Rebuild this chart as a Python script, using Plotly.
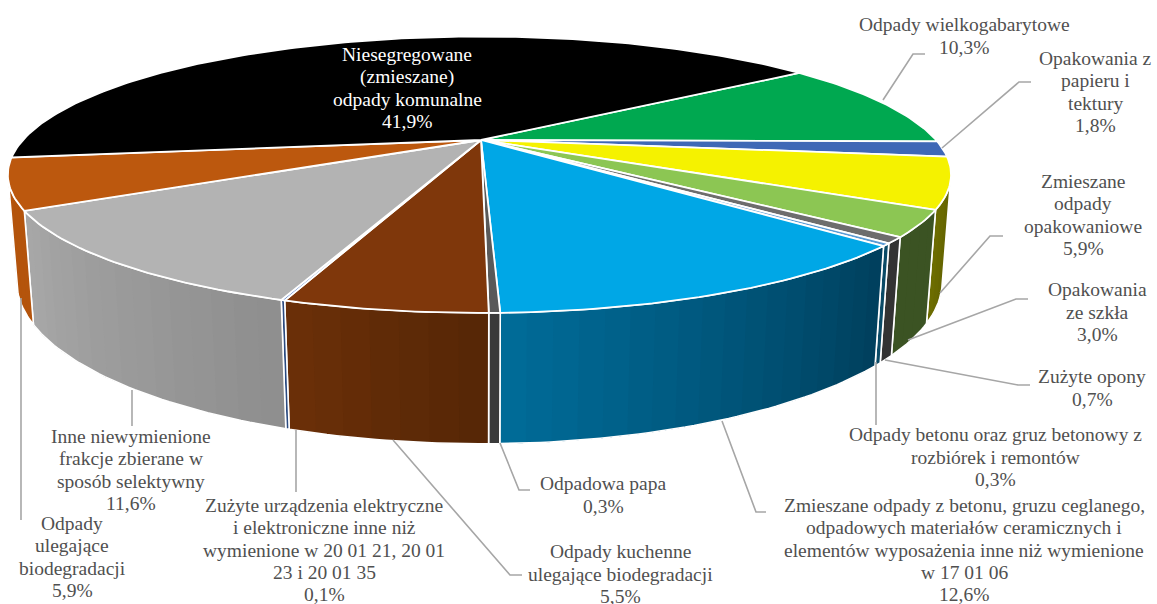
import math
import plotly.graph_objects as go

categories = ["Odpady wielkogabarytowe", "Opakowania z<br>papieru i<br>tektury", "Zmieszane<br>odpady<br>opakowaniowe",
              "Opakowania<br>ze szkła", "Zużyte opony", "Odpady betonu oraz gruz betonowy z<br>rozbiórek i remontów",
              "Zmieszane odpady z betonu, gruzu ceglanego,<br>odpadowych materiałów ceramicznych i<br>elementów wyposażenia inne niż wymienione<br>w 17 01 06",
              "Odpadowa papa", "Odpady kuchenne<br>ulegające biodegradacji",
              "Zużyte urządzenia elektryczne<br>i elektroniczne inne niż<br>wymienione w 20 01 21, 20 01<br>23 i 20 01 35",
              "Inne niewymienione<br>frakcje zbierane w<br>sposób selektywny", "Odpady<br>ulegające<br>biodegradacji",
              "Niesegregowane<br>(zmieszane)<br>odpady komunalne"]
values = [10.3, 1.8, 5.9, 3.0, 0.7, 0.3, 12.6, 0.3, 5.5, 0.1, 11.6, 5.9, 41.9]
top_colors = ["#00A850", "#3F68B6", "#F5F200", "#8CC653", "#6D6D6D", "#5B9BD5", "#00A7E6", "#595959",
              "#7F370B", "#4472C4", "#B3B3B3", "#BC580E", "#000000"]
wall_left = ["#006030", "#25406E", "#6E6E00", "#3B5323", "#333333", "#0A4A66", "#006C99", "#3A3A3A",
             "#6C3008", "#2A4A80", "#A8A8A8", "#B4540C", "#000000"]
wall_right = ["#006030", "#25406E", "#5E5E00", "#3B5323", "#333333", "#0A4A66", "#003F5C", "#3A3A3A",
              "#552606", "#2A4A80", "#8E8E8E", "#B4540C", "#000000"]
label_pos = [(964, 36), (1095, 92), (1083, 215), (1097, 312), (1092, 388), (995, 457), (964, 550),
             (603, 495), (620, 574), (324, 550), (131, 470), (72, 557), (407, 88)]
leaders = [[(883, 100), (913, 54), (925, 54)], [(942, 148), (1019, 82), (1031, 82)],
           [(940, 293), (990, 236), (1003, 236)], [(908, 340), (1016, 299), (1028, 299)],
           [(885, 360), (1018, 385), (1030, 385)], [(876, 362), (876, 425)],
           [(722, 421), (756, 512), (766, 512)], [(500, 443), (519, 490), (530, 490)],
           [(393, 440), (510, 575), (522, 575)], [(296, 430), (296, 492)],
           [(132, 390), (132, 426)], [(21, 298), (21, 520)]]

START = 53.5
CX, CY, A_RIGHT, A_LEFT, B, K, M, C = 481, 140, 455, 458, 129.5, 0.251, 0.018, 103.5
VIS = 104.5
LINE_GAP = 22.2


def proj(deg, h=0.0):
    t = math.radians(deg)
    u, v = math.sin(t), math.cos(t)
    s = 1 / (1 + K * v + M * h)
    return CX + (A_RIGHT if u > 0 else A_LEFT) * u * s, CY + (-B * v + C * h) * s


def arc(a0, a1, h=0.0):
    n = max(2, int(abs(a1 - a0)) + 2)
    return [proj(a0 + (a1 - a0) * i / (n - 1), h) for i in range(n)]


def mix(c0, c1, f):
    p = [int(c0[i:i + 2], 16) for i in (1, 3, 5)]
    q = [int(c1[i:i + 2], 16) for i in (1, 3, 5)]
    return "#%02X%02X%02X" % tuple(round(a + (b - a) * f) for a, b in zip(p, q))


fig = go.Figure()


def poly(pts, fill=None, line="#FFFFFF", width=0.0):
    fig.add_trace(go.Scatter(x=[p[0] for p in pts] + [pts[0][0]], y=[p[1] for p in pts] + [pts[0][1]],
                             mode="lines", fill="toself" if fill else "none",
                             fillcolor=fill or "rgba(0,0,0,0)",
                             line=dict(color=line, width=width), hoverinfo="skip", showlegend=False))


angles = []
cur = START
total = sum(values)
for val in values:
    nxt = cur + val / total * 360
    angles.append((cur, nxt))
    cur = nxt

# side walls (only the part facing the viewer), painted strip over strip so no seams show
for i, (a0, a1) in enumerate(angles):
    lo, hi = max(a0, VIS), min(a1, 360 - VIS)
    if i == len(values) - 1 or lo >= hi:
        continue
    n = max(1, int((hi - lo) / 2.5))
    for j in range(n):
        b0 = lo + (hi - lo) * j / n
        col = mix(wall_right[i], wall_left[i], (j + 0.5) / n)
        poly(arc(b0, hi, 0) + arc(hi, b0, 1), fill=col)
    poly(arc(lo, hi, 0) + arc(hi, lo, 1), line="#FFFFFF", width=1.6)

# top faces
for i, (a0, a1) in enumerate(angles):
    poly([(CX, CY)] + arc(a0, a1, 0), fill=top_colors[i], line="#FFFFFF", width=1.8)

for seg in leaders:
    fig.add_trace(go.Scatter(x=[p[0] for p in seg], y=[p[1] for p in seg], mode="lines",
                             line=dict(color="#A6A6A6", width=1.6), hoverinfo="skip", showlegend=False))

for i, (name, val) in enumerate(zip(categories, values)):
    lines = name.split("<br>") + [f"{str(val).replace('.', ',')}%"]
    for k, ln in enumerate(lines):
        fig.add_annotation(x=label_pos[i][0], y=label_pos[i][1] + (k - (len(lines) - 1) / 2) * LINE_GAP, text=ln,
                           showarrow=False, xanchor="center", yanchor="middle", align="center",
                           font=dict(family="Liberation Serif", size=19.5,
                                     color="#FFFFFF" if i == len(values) - 1 else "#505050"))

fig.update_xaxes(range=[0, 1157], visible=False, fixedrange=True)
fig.update_yaxes(range=[604, 0], visible=False, fixedrange=True)
fig.update_layout(width=1157, height=604, margin=dict(l=0, r=0, t=0, b=0), paper_bgcolor="#FFFFFF",
                  plot_bgcolor="#FFFFFF", showlegend=False)
fig.write_html("out.html", config={"displayModeBar": False},
               post_script="document.body.style.margin='0';document.body.style.overflow='hidden';")
